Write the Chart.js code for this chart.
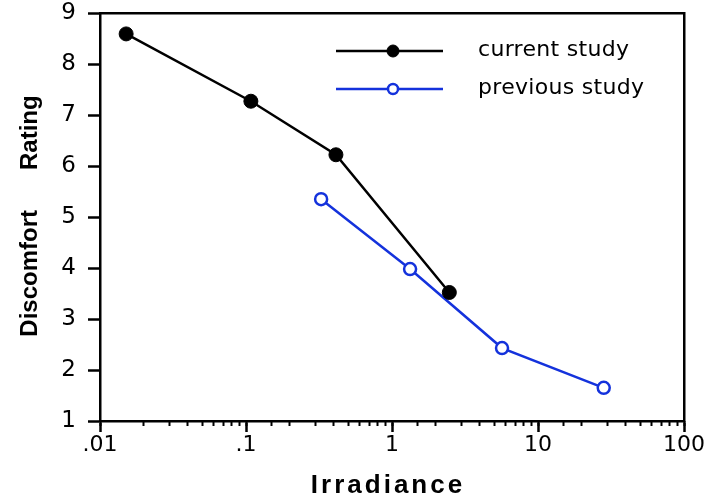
<!DOCTYPE html>
<html>
<head>
<meta charset="utf-8">
<script src="https://cdn.jsdelivr.net/npm/chart.js@4/dist/chart.umd.min.js"></script>
<style>
  html, body { margin: 0; padding: 0; background: #fff; }
  #wrap { width: 706px; height: 500px; }
</style>
</head>
<body>
<div id="wrap"><canvas id="chart" width="706" height="500"></canvas></div>
<script>
// data
const currentX = [0.0151, 0.108, 0.413, 2.47];
const currentY = [8.59, 7.27, 6.22, 3.52];
const previousX = [0.327, 1.33, 5.67, 28.2];
const previousY = [5.35, 3.98, 2.43, 1.65];
const seriesNames = ['current study', 'previous study'];
const xTickLabels = { 0.01: '.01', 0.1: '.1', 1: '1', 10: '10', 100: '100' };
const xTitle = 'Irradiance';
const yTitle = 'Discomfort      Rating';

const FONT = '"DejaVu Sans", "Noto Sans", sans-serif';
const TITLE_FONT = '"Liberation Sans", Arial, sans-serif';
const BLUE = '#1432dc';

function toPoints(xs, ys) {
    return xs.map((x, i) => ({ x: x, y: ys[i] }));
}

function isDecade(v) {
    const l = Math.log10(v);
    return Math.abs(l - Math.round(l)) < 1e-6;
}

// legend: a line with the marker in the middle, drawn from the dataset styles
const lineLegend = {
    id: 'lineLegend',
    afterDraw(chart) {
        const ctx = chart.ctx;
        const rows = [51, 89];
        ctx.save();
        chart.data.datasets.forEach((ds, i) => {
            const y = rows[i];
            ctx.strokeStyle = ds.borderColor;
            ctx.lineWidth = ds.borderWidth;
            ctx.beginPath();
            ctx.moveTo(336, y);
            ctx.lineTo(443, y);
            ctx.stroke();
            ctx.beginPath();
            ctx.arc(393, y, ds.pointRadius - 1, 0, Math.PI * 2);
            ctx.fillStyle = ds.pointBackgroundColor;
            ctx.fill();
            ctx.lineWidth = ds.pointBorderWidth;
            ctx.strokeStyle = ds.pointBorderColor;
            ctx.stroke();
            ctx.fillStyle = '#000';
            ctx.font = '22px ' + FONT;
            ctx.letterSpacing = '0.3px';
            ctx.textBaseline = 'middle';
            ctx.textAlign = 'left';
            ctx.fillText(ds.label, 478, y - 1);
        });
        ctx.restore();
    }
};

// bold axis titles (x title is letter-spaced)
const axisTitles = {
    id: 'axisTitles',
    afterDraw(chart) {
        const ctx = chart.ctx;
        ctx.save();
        ctx.fillStyle = '#000';
        ctx.font = 'bold 26px ' + TITLE_FONT;
        ctx.textAlign = 'center';
        ctx.textBaseline = 'alphabetic';
        ctx.letterSpacing = '3px';
        ctx.fillText(xTitle, 388, 493);
        ctx.font = 'bold 24px ' + TITLE_FONT;
        ctx.letterSpacing = '0px';
        ctx.translate(37, 216);
        ctx.rotate(-Math.PI / 2);
        ctx.fillText(yTitle, 0, 0);
        ctx.restore();
    }
};

new Chart(document.getElementById('chart'), {
    type: 'line',
    data: {
        datasets: [{
            label: seriesNames[0],
            data: toPoints(currentX, currentY),
            borderColor: '#000',
            borderWidth: 2.5,
            pointRadius: 7,
            pointBackgroundColor: '#000',
            pointBorderColor: '#000',
            pointBorderWidth: 1,
            tension: 0
        }, {
            label: seriesNames[1],
            data: toPoints(previousX, previousY),
            borderColor: BLUE,
            borderWidth: 2.5,
            pointRadius: 6,
            pointBackgroundColor: '#fff',
            pointBorderColor: BLUE,
            pointBorderWidth: 2.5,
            tension: 0
        }]
    },
    options: {
        responsive: false,
        animation: false,
        layout: { padding: { top: 13, right: 22, left: 0, bottom: 0 } },
        plugins: {
            legend: { display: false },
            tooltip: { enabled: false }
        },
        scales: {
            x: {
                type: 'logarithmic',
                position: 'bottom',
                min: 0.01,
                max: 100,
                weight: 1,
                afterBuildTicks(scale) {
                    scale.ticks = scale.ticks.filter(t => isDecade(t.value));
                },
                afterFit(scale) {
                    scale.height = 79;
                    scale.paddingLeft = 0;
                    scale.paddingRight = 0;
                },
                border: { display: true, color: '#000', width: 2.5 },
                grid: { drawOnChartArea: false, drawTicks: true, tickLength: 11, tickWidth: 2.5, tickColor: '#000' },
                ticks: {
                    autoSkip: false,
                    maxRotation: 0,
                    padding: 0,
                    color: '#000',
                    font: { size: 22, family: FONT },
                    callback: (v) => xTickLabels[v] !== undefined ? xTickLabels[v] : (isDecade(v) ? String(v) : '')
                }
            },
            xMinor: {
                type: 'logarithmic',
                position: 'bottom',
                min: 0.01,
                max: 100,
                weight: 0,
                afterFit(scale) { scale.height = 0; },
                border: { display: false },
                grid: { drawOnChartArea: false, drawTicks: true, tickLength: 5, tickWidth: 2, tickColor: '#000' },
                ticks: { display: false, autoSkip: false }
            },
            xTop: {
                type: 'logarithmic',
                position: 'top',
                min: 0.01,
                max: 100,
                afterFit(scale) { scale.height = 0; },
                border: { display: true, color: '#000', width: 2.5 },
                grid: { display: false },
                ticks: { display: false }
            },
            y: {
                type: 'linear',
                position: 'left',
                min: 1,
                max: 9,
                afterFit(scale) {
                    scale.width = 100;
                    scale.paddingTop = 0;
                    scale.paddingBottom = 0;
                },
                border: { display: true, color: '#000', width: 2.5 },
                grid: { drawOnChartArea: false, drawTicks: true, tickLength: 12, tickWidth: 2.5, tickColor: '#000' },
                ticks: {
                    stepSize: 1,
                    padding: 12,
                    color: '#000',
                    font: { size: 23, family: FONT }
                }
            },
            yRight: {
                type: 'linear',
                position: 'right',
                min: 1,
                max: 9,
                afterFit(scale) { scale.width = 0; },
                border: { display: true, color: '#000', width: 2.5 },
                grid: { display: false },
                ticks: { display: false }
            }
        }
    },
    plugins: [lineLegend, axisTitles]
});
</script>
</body>
</html>
